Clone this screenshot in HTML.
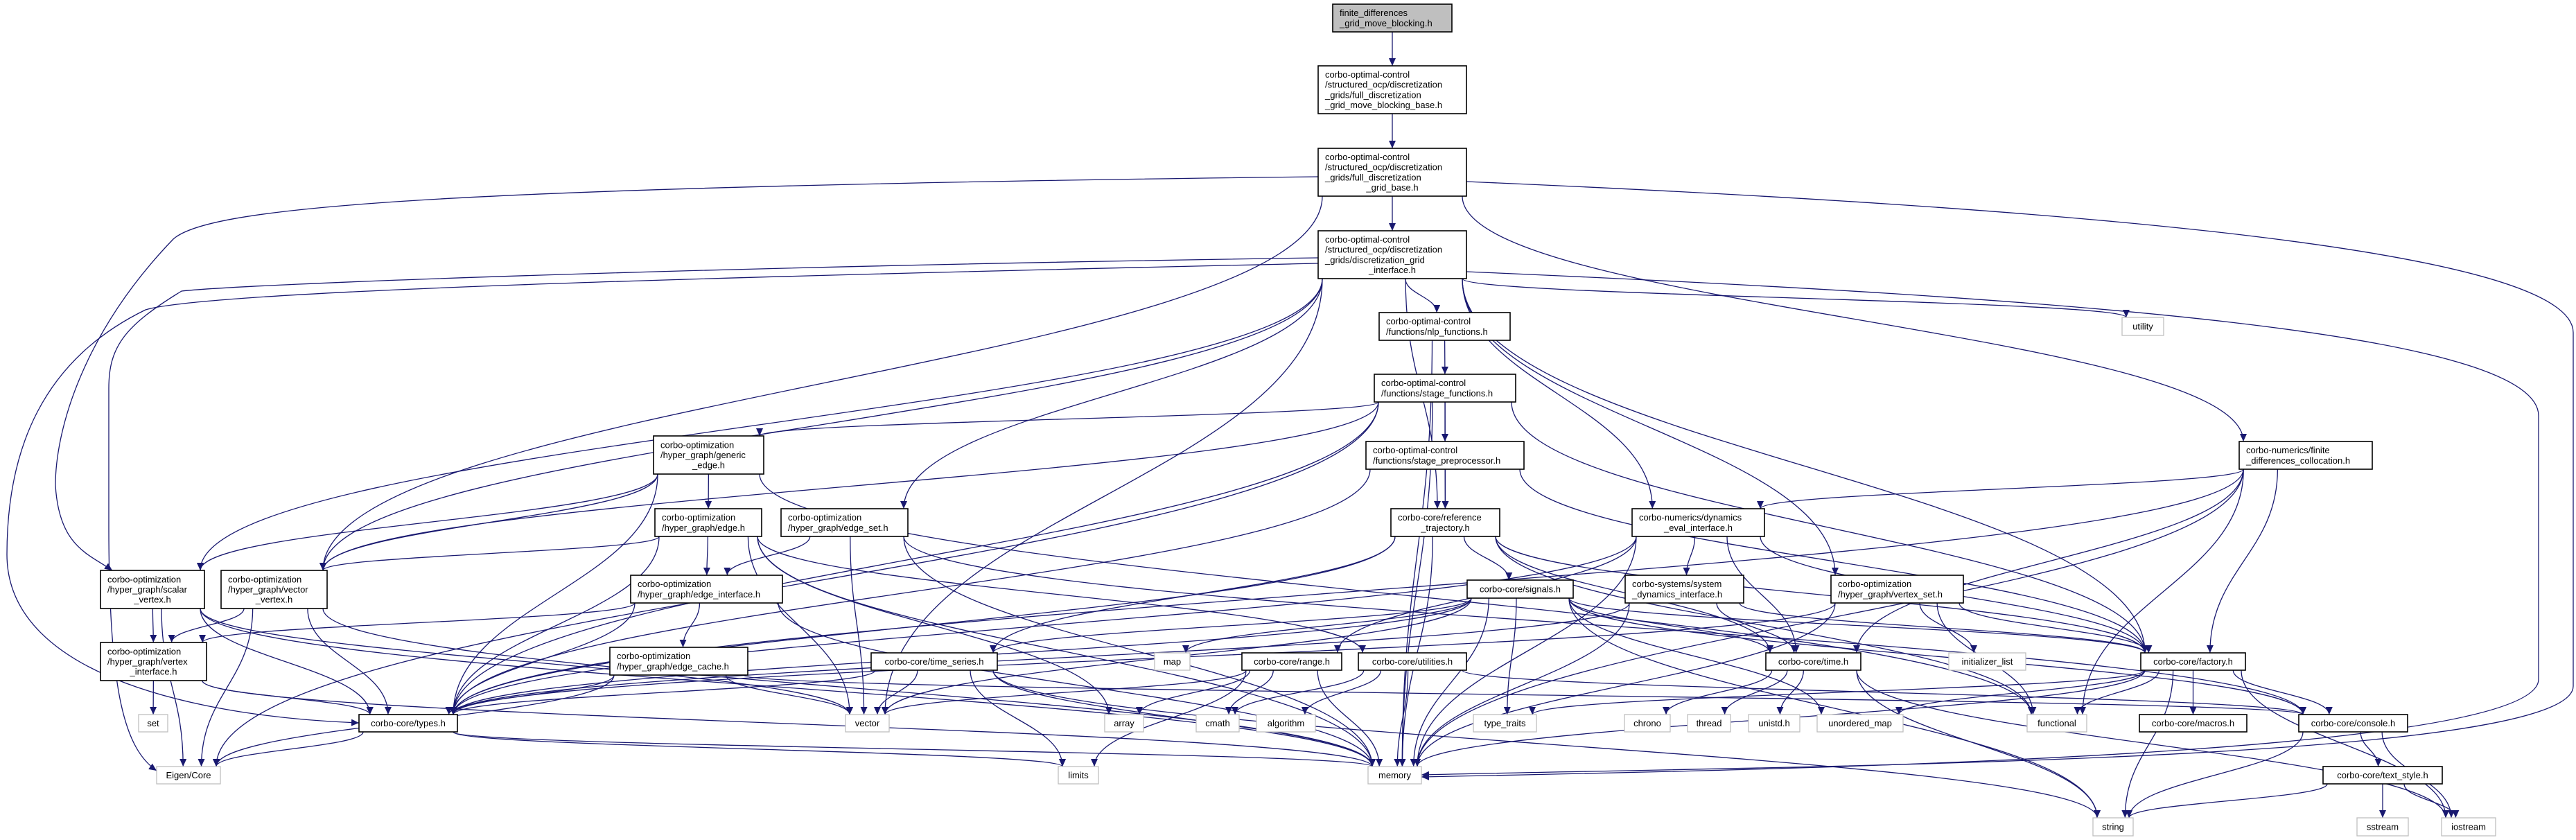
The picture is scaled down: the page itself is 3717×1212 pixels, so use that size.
<!DOCTYPE html>
<html><head><meta charset="utf-8">
<style>
html,body{margin:0;padding:0;background:#fff;}
svg{display:block;}
text{font-family:"Liberation Sans",sans-serif;font-size:13px;fill:#000;}
</style></head>
<body>
<svg id="g" width="3717" height="1212" viewBox="0 0 3717 1212" xmlns="http://www.w3.org/2000/svg">
<defs>
<marker id="a" markerUnits="userSpaceOnUse" markerWidth="12" markerHeight="10" refX="11" refY="5" orient="auto">
<path d="M0,0 L11,5 L0,10 z" fill="#191970"/>
</marker>
</defs>
<g id="edges" fill="none" stroke="#191970" stroke-width="1.3">
<path marker-end="url(#a)" d="M2116,262 C3000,300 3713,360 3713,480 L3713,990 C3713,1100 2600,1105 2051,1118"/>
<path marker-end="url(#a)" d="M2116,392 C3000,430 3663,480 3663,600 L3663,980 C3663,1090 2600,1110 2051,1121"/>
<path marker-end="url(#a)" d="M1902,255 C600,270 300,300 250,345 C120,480 80,620 80,700 C85,790 130,800 162,823"/>
<path marker-end="url(#a)" d="M1902,380 C1000,400 300,420 210,447 C60,520 10,650 10,800 C10,980 300,1035 518,1043"/>
<path marker-end="url(#a)" d="M1902,372 C1000,385 350,410 262,420 C180,470 157,500 157,560 L157,760 C157,1000 180,1080 226,1112"/>
</g>
<g id="nodes"></g>
</svg>
<script>
var N={
top:[1923,2095,6,46,["finite_differences","_grid_move_blocking.h"],2],
n1:[1902,2116,95,164,["corbo-optimal-control","/structured_ocp/discretization","_grids/full_discretization","_grid_move_blocking_base.h"]],
n2:[1902,2116,214,283,["corbo-optimal-control","/structured_ocp/discretization","_grids/full_discretization","_grid_base.h"]],
n3:[1902,2116,333,402,["corbo-optimal-control","/structured_ocp/discretization","_grids/discretization_grid","_interface.h"]],
nlp:[1990,2179,451,491,["corbo-optimal-control","/functions/nlp_functions.h"]],
stf:[1983,2187,540,580,["corbo-optimal-control","/functions/stage_functions.h"]],
gen:[943,1102,629,684,["corbo-optimization","/hyper_graph/generic","_edge.h"]],
stp:[1971,2199,637,677,["corbo-optimal-control","/functions/stage_preprocessor.h"]],
fdc:[3231,3423,637,677,["corbo-numerics/finite","_differences_collocation.h"]],
edge:[945,1099,734,774,["corbo-optimization","/hyper_graph/edge.h"]],
eset:[1127,1310,734,774,["corbo-optimization","/hyper_graph/edge_set.h"]],
ref:[2007,2164,734,774,["corbo-core/reference","_trajectory.h"]],
dyn:[2355,2546,734,774,["corbo-numerics/dynamics","_eval_interface.h"]],
scal:[145,295,823,878,["corbo-optimization","/hyper_graph/scalar","_vertex.h"]],
vec:[319,472,823,878,["corbo-optimization","/hyper_graph/vector","_vertex.h"]],
eint:[910,1129,830,870,["corbo-optimization","/hyper_graph/edge_interface.h"]],
sig:[2117,2270,837,863,["corbo-core/signals.h"]],
sys:[2345,2516,830,870,["corbo-systems/system","_dynamics_interface.h"]],
vset:[2642,2833,830,870,["corbo-optimization","/hyper_graph/vertex_set.h"]],
vint:[145,298,927,982,["corbo-optimization","/hyper_graph/vertex","_interface.h"]],
ecache:[880,1079,934,974,["corbo-optimization","/hyper_graph/edge_cache.h"]],
ts:[1257,1439,942,967,["corbo-core/time_series.h"]],
map:[1666,1717,942,967,["map"],1],
range:[1792,1936,942,967,["corbo-core/range.h"]],
util:[1960,2116,942,967,["corbo-core/utilities.h"]],
time:[2548,2685,942,967,["corbo-core/time.h"]],
init:[2812,2923,942,967,["initializer_list"],1],
fac:[3089,3240,942,967,["corbo-core/factory.h"]],
set:[200,242,1031,1056,["set"],1],
types:[518,660,1031,1056,["corbo-core/types.h"]],
vector:[1220,1283,1031,1056,["vector"],1],
array:[1594,1650,1031,1056,["array"],1],
cmath:[1726,1788,1031,1056,["cmath"],1],
algo:[1813,1898,1031,1056,["algorithm"],1],
tt:[2126,2217,1031,1056,["type_traits"],1],
chrono:[2344,2410,1031,1056,["chrono"],1],
thread:[2435,2497,1031,1056,["thread"],1],
unistd:[2523,2597,1031,1056,["unistd.h"],1],
umap:[2622,2746,1031,1056,["unordered_map"],1],
func:[2925,3011,1031,1056,["functional"],1],
macros:[3087,3242,1031,1056,["corbo-core/macros.h"]],
console:[3317,3474,1031,1056,["corbo-core/console.h"]],
Eigen:[226,318,1106,1131,["Eigen/Core"],1],
limits:[1527,1585,1106,1131,["limits"],1],
memory:[1974,2051,1106,1131,["memory"],1],
tstyle:[3352,3524,1106,1131,["corbo-core/text_style.h"]],
string:[3020,3078,1180,1206,["string"],1],
sstream:[3401,3475,1180,1206,["sstream"],1],
iostream:[3523,3601,1180,1206,["iostream"],1],
utility:[3062,3122,458,484,["utility"],1]
};
var E="top n1,n1 n2,n2 n3,n2 vec,n2 fdc,n3 nlp,n3 utility,n3 ref,n3 eset,n3 dyn,n3 vset,n3 fac,n3 scal,n3 vec,n3 vector,nlp stf,nlp memory,stf stp,stf gen,stf ref,stf fac,stf memory,stf types,stf Eigen,stf vec,stp ref,stp fac,stp types,gen edge,gen vec,gen scal,gen types,gen func,edge eint,edge vec,edge types,edge memory,edge array,edge util,edge vector,eset eint,eset vector,eset memory,eset console,eint ecache,eint types,eint memory,eint vint,ecache types,ecache vector,ecache Eigen,ecache console,scal vint,scal types,scal memory,scal vector,scal Eigen,vec vint,vec types,vec memory,vec Eigen,vint set,vint types,vint memory,ref sig,ref ts,ref memory,ref time,ref fac,ref func,ref types,dyn sys,dyn range,dyn types,dyn memory,dyn fac,dyn time,sig ts,sig map,sig vector,sig memory,sig tt,sig string,sig time,sig fac,sig types,sig umap,sig console,sys time,sys fac,sys memory,sys types,vset init,vset fac,vset types,vset memory,vset func,ts vector,ts memory,ts string,ts types,ts limits,range vector,range array,range cmath,range limits,range memory,util cmath,util algo,util memory,util console,time chrono,time thread,time unistd,time string,time iostream,fac func,fac macros,fac console,fac string,fac memory,fac iostream,fac tt,fac umap,fdc dyn,fdc fac,fdc time,fdc func,fdc memory,fdc types,types Eigen,types limits,types memory,console tstyle,console string,console iostream,tstyle string,tstyle sstream,tstyle iostream";
var ns="http://www.w3.org/2000/svg";
var eg=document.getElementById("edges"),ng=document.getElementById("nodes");
function cl(v,a,b){return Math.max(a,Math.min(b,v));}
E.split(",").forEach(function(p){
 var q=p.split(" "),s=N[q[0]],t=N[q[1]];
 var scx=(s[0]+s[1])/2,tcx=(t[0]+t[1])/2,d;
 if(t[2]>s[3]+8){
  var sx=cl(scx+(tcx-scx)*0.25,s[0]+6,s[1]-6),sy=s[3];
  var tx=cl(tcx+(scx-tcx)*0.15,t[0]+6,t[1]-6),ty=t[2];
  var dy=(ty-sy)*0.45;
  d="M"+sx+","+sy+" C"+sx+","+(sy+dy)+" "+tx+","+(ty-dy)+" "+tx+","+ty;
 } else {
  var right=tcx>scx;
  var sx=right?s[1]:s[0],sy=(s[2]+s[3])/2;
  var tx=right?t[0]:t[1],ty=(t[2]+t[3])/2;
  var dx=(tx-sx)*0.4;
  d="M"+sx+","+sy+" C"+(sx+dx)+","+sy+" "+(tx-dx)+","+ty+" "+tx+","+ty;
 }
 var e=document.createElementNS(ns,"path");
 e.setAttribute("d",d);e.setAttribute("marker-end","url(#a)");eg.appendChild(e);
});
for(var k in N){
 var n=N[k],r=document.createElementNS(ns,"rect");
 r.setAttribute("x",n[0]);r.setAttribute("y",n[2]);
 r.setAttribute("width",n[1]-n[0]);r.setAttribute("height",n[3]-n[2]);
 r.setAttribute("fill",n[5]==2?"#bfbfbf":"#fff");
 r.setAttribute("stroke",n[5]==1?"#bfbfbf":"#000");
 r.setAttribute("stroke-width",n[5]==1?"1.3":"1.6");
 ng.appendChild(r);
 var L=n[4],h=14.7,cy=(n[2]+n[3])/2,y0=cy-(L.length-1)*h/2+4.5;
 L.forEach(function(l,i){
  var t=document.createElementNS(ns,"text");
  var multi=L.length>1,last=i==L.length-1;
  if(multi&&!(last&&l.length<18)){t.setAttribute("x",n[0]+10);}
  else{t.setAttribute("x",(n[0]+n[1])/2);t.setAttribute("text-anchor","middle");}
  t.setAttribute("y",y0+i*h);t.textContent=l;ng.appendChild(t);
 });
}
</script>
</body></html>
